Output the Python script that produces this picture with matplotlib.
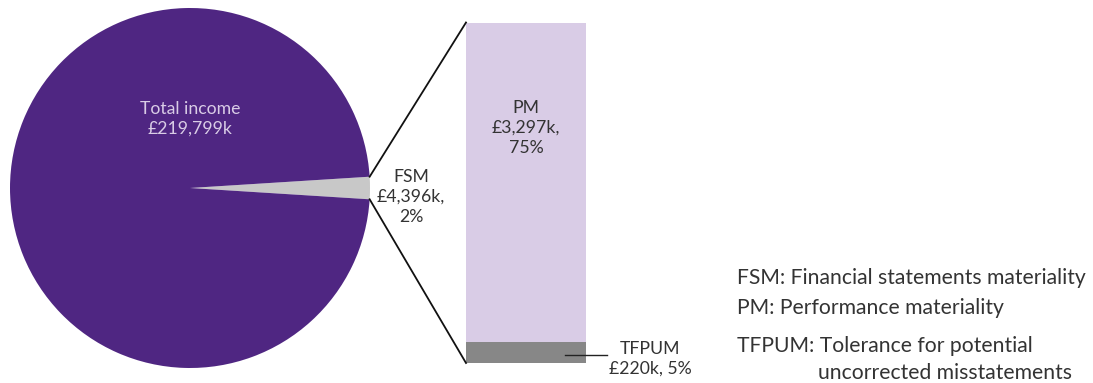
import matplotlib.pyplot as plt
import numpy as np

# data
total_income = 219799   # £k
fsm_value = 4396        # £k
fsm_pct = 2
pie_labels = ["Total income", "FSM"]
pie_shares = [100 - fsm_pct, fsm_pct]
bar_labels = ["TFPUM", "PM"]
bar_values = [220, 3297]   # £k
bar_pcts = [5, 75]
legend_lines = ["FSM: Financial statements materiality",
                "PM: Performance materiality",
                "TFPUM: Tolerance for potential",
                "uncorrected misstatements"]

plt.rcParams['font.family'] = ['Lato', 'DejaVu Sans']
txt = '#333333'
purple = '#4f2682'
lav = '#d9cce6'
fs = 12.7

fig = plt.figure(figsize=(10.93, 3.83), dpi=100)
ax = fig.add_axes([0, 0, 1, 1])

# pie, small slice centred on the right
cx, cy, r = 190, 195, 180
start = -fsm_pct / 100 * 360 / 2
ax.pie(pie_shares[::-1], colors=['#c8c8c8', purple], startangle=start,
       center=(cx, cy), radius=r, frame=True)
ax.set_xlim(0, 1093)
ax.set_ylim(0, 383)
ax.axis('off')

ax.text(cx, 264, f"{pie_labels[0]}\n£{total_income:,}k", ha='center', va='center',
        color=lav, fontsize=fs, linespacing=1.3)
ax.text(411, 186, f"{pie_labels[1]}\n£{fsm_value:,}k,\n{fsm_pct}%", ha='center', va='center',
        color=txt, fontsize=fs, linespacing=1.3)

# stacked bar, scaled to its own total
bx, bw = 526, 120
btop, bbot = 360.5, 20
scale = (btop - bbot) / sum(bar_pcts)
bottom = bbot
for lab, p, col in zip(bar_labels, bar_pcts, ['#878787', lav]):
    ax.bar(bx, p * scale, bottom=bottom, width=bw, color=col, linewidth=0)
    bottom += p * scale

ax.text(bx, 255, f"{bar_labels[1]}\n£{bar_values[1]:,}k,\n{bar_pcts[1]}%", ha='center',
        va='center', color=txt, fontsize=fs, linespacing=1.3)
ax.plot([565, 607], [bbot + 8, bbot + 8], color='#222222', lw=1)
ax.text(650, 24, f"{bar_labels[0]}\n£{bar_values[0]}k, {bar_pcts[0]}%", ha='center',
        va='center', color=txt, fontsize=fs, linespacing=1.25)

# connector lines from slice edges to bar corners
a = np.radians(fsm_pct / 100 * 360 / 2)
ax.plot([cx + r * np.cos(a), bx - bw / 2], [cy + r * np.sin(a), btop], color='#111111', lw=1.3)
ax.plot([cx + r * np.cos(a), bx - bw / 2], [cy - r * np.sin(a), bbot], color='#111111', lw=1.3)

# key
ys = [105, 75, 37, 10]
xs = [737, 737, 737, 818]
for s, x, y in zip(legend_lines, xs, ys):
    ax.text(x, y, s, ha='left', va='center', color=txt, fontsize=15.2)

fig.savefig('out.png', dpi=100)
